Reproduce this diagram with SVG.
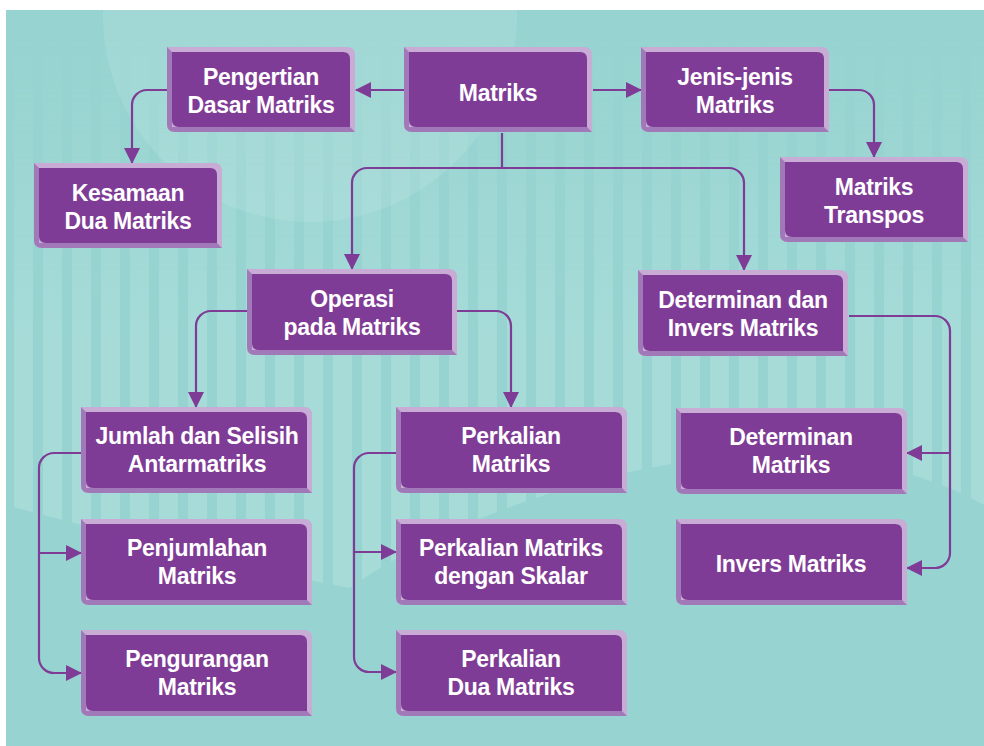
<svg xmlns="http://www.w3.org/2000/svg" width="984" height="746" viewBox="0 0 984 746">
<style>
.lbl{font-family:"Liberation Sans",Arial,sans-serif;font-weight:bold;font-size:23px;letter-spacing:-0.3px;fill:#ffffff;text-anchor:middle}
.con{fill:none;stroke:#7f3c96;stroke-width:2.2}
.arr{marker-end:url(#ah)}
.lt{fill:#c8acd6}.md{fill:#a179b8}.fc{fill:#7f3c96}
</style>
<defs>
<marker id="ah" viewBox="0 0 16 16" refX="15" refY="8" markerWidth="16" markerHeight="16" markerUnits="userSpaceOnUse" orient="auto"><path d="M0,0 L16,8 L0,16 Z" fill="#7f3c96"/></marker>
<pattern id="stripes" patternUnits="userSpaceOnUse" x="4" y="0" width="29" height="20"><rect x="10" y="0" width="19" height="20" fill="#a6dbd8"/></pattern>
<linearGradient id="fade" x1="0" y1="0" x2="0" y2="1" gradientUnits="objectBoundingBox"><stop offset="0" stop-color="#fff" stop-opacity="0"/><stop offset="0.12" stop-color="#fff" stop-opacity="0.15"/><stop offset="0.45" stop-color="#fff" stop-opacity="1"/></linearGradient>
<mask id="fm"><rect x="6" y="10" width="978" height="736" fill="url(#fade)"/></mask>
<clipPath id="bgclip"><rect x="6" y="10" width="978" height="736"/></clipPath>
<g id="boxA"><path class="lt" d="M0,0 H180 Q188,0 188,8 V85 H8 Q0,85 0,77 Z"/><path class="md" d="M0,0 L5,5 V80 H183 L188,85 H8 Q0,85 0,77 Z"/><path class="fc" d="M5,5 H176 Q183,5 183,12 V80 H12 Q5,80 5,73 Z"/></g>
<g id="boxB"><path class="lt" d="M0,0 H202 Q210,0 210,8 V86 H8 Q0,86 0,78 Z"/><path class="md" d="M0,0 L5,5 V81 H205 L210,86 H8 Q0,86 0,78 Z"/><path class="fc" d="M5,5 H198 Q205,5 205,12 V81 H12 Q5,81 5,74 Z"/></g>
<g id="boxC"><path class="lt" d="M0,0 H223 Q231,0 231,8 V86 H8 Q0,86 0,78 Z"/><path class="md" d="M0,0 L5,5 V81 H226 L231,86 H8 Q0,86 0,78 Z"/><path class="fc" d="M5,5 H219 Q226,5 226,12 V81 H12 Q5,81 5,74 Z"/></g>
</defs>
<rect x="0" y="0" width="984" height="746" fill="#ffffff"/>
<g id="background" clip-path="url(#bgclip)">
<rect x="6" y="10" width="978" height="736" fill="#97d4d1"/>
<rect x="6" y="10" width="978" height="736" fill="url(#stripes)" mask="url(#fm)"/>
<circle cx="310" cy="15" r="207" fill="#ffffff" fill-opacity="0.1"/>
<path d="M6,505 C100,530 250,570 350,588 C430,530 600,460 760,455 C860,452 940,480 984,505 V746 H6 Z" fill="#97d4d1"/>
</g>
<g id="connectors">
<path class="con arr" d="M404,90 H356"/>
<path class="con arr" d="M593,90 H641"/>
<path class="con arr" d="M167,90 H147 A15,15 0 0 0 132,105 V163"/>
<path class="con arr" d="M828,90 H859 A15,15 0 0 1 874,105 V157"/>
<path class="con" d="M502,133 V168"/>
<path class="con arr" d="M502,168 H367 A15,15 0 0 0 352,183 V269"/>
<path class="con arr" d="M502,168 H729 A15,15 0 0 1 744,183 V270"/>
<path class="con arr" d="M247,311 H211 A15,15 0 0 0 196,326 V407"/>
<path class="con arr" d="M456,311 H496 A15,15 0 0 1 511,326 V407"/>
<path class="con arr" d="M81,453 H54 A15,15 0 0 0 39,468 V658 A15,15 0 0 0 54,673 H81"/>
<path class="con arr" d="M39,553 H81"/>
<path class="con arr" d="M396,453 H369 A15,15 0 0 0 354,468 V657 A15,15 0 0 0 369,672 H396"/>
<path class="con arr" d="M354,552 H396"/>
<path class="con arr" d="M849,316 H935 A15,15 0 0 1 950,331 V553 A15,15 0 0 1 935,568 H907"/>
<path class="con arr" d="M950,453 H907"/>
</g>
<g id="n_matriks"><use href="#boxA" x="404" y="47"/><text class="lbl" x="498" y="101">Matriks</text></g>
<g id="n_pengertian"><use href="#boxA" x="167" y="47"/><text class="lbl" x="261" y="85">Pengertian</text><text class="lbl" x="261" y="113">Dasar Matriks</text></g>
<g id="n_jenis"><use href="#boxA" x="641" y="47"/><text class="lbl" x="735" y="85">Jenis-jenis</text><text class="lbl" x="735" y="113">Matriks</text></g>
<g id="n_kesamaan"><use href="#boxA" x="34" y="163"/><text class="lbl" x="128" y="201">Kesamaan</text><text class="lbl" x="128" y="229">Dua Matriks</text></g>
<g id="n_transpos"><use href="#boxA" x="780" y="157"/><text class="lbl" x="874" y="195">Matriks</text><text class="lbl" x="874" y="223">Transpos</text></g>
<g id="n_operasi"><use href="#boxB" x="247" y="269"/><text class="lbl" x="352" y="307">Operasi</text><text class="lbl" x="352" y="335">pada Matriks</text></g>
<g id="n_detinv"><use href="#boxB" x="638" y="270"/><text class="lbl" x="743" y="308">Determinan dan</text><text class="lbl" x="743" y="336">Invers Matriks</text></g>
<g id="n_jumlah"><use href="#boxC" x="81" y="407"/><text class="lbl" x="197" y="444">Jumlah dan Selisih</text><text class="lbl" x="197" y="472">Antarmatriks</text></g>
<g id="n_penjumlahan"><use href="#boxC" x="81" y="519"/><text class="lbl" x="197" y="556">Penjumlahan</text><text class="lbl" x="197" y="584">Matriks</text></g>
<g id="n_pengurangan"><use href="#boxC" x="81" y="630"/><text class="lbl" x="197" y="667">Pengurangan</text><text class="lbl" x="197" y="695">Matriks</text></g>
<g id="n_perkalian"><use href="#boxC" x="396" y="407"/><text class="lbl" x="511" y="444">Perkalian</text><text class="lbl" x="511" y="472">Matriks</text></g>
<g id="n_skalar"><use href="#boxC" x="396" y="519"/><text class="lbl" x="511" y="556">Perkalian Matriks</text><text class="lbl" x="511" y="584">dengan Skalar</text></g>
<g id="n_dua"><use href="#boxC" x="396" y="630"/><text class="lbl" x="511" y="667">Perkalian</text><text class="lbl" x="511" y="695">Dua Matriks</text></g>
<g id="n_det"><use href="#boxC" x="676" y="408"/><text class="lbl" x="791" y="445">Determinan</text><text class="lbl" x="791" y="473">Matriks</text></g>
<g id="n_inv"><use href="#boxC" x="676" y="519"/><text class="lbl" x="791" y="572">Invers Matriks</text></g>
</svg>
